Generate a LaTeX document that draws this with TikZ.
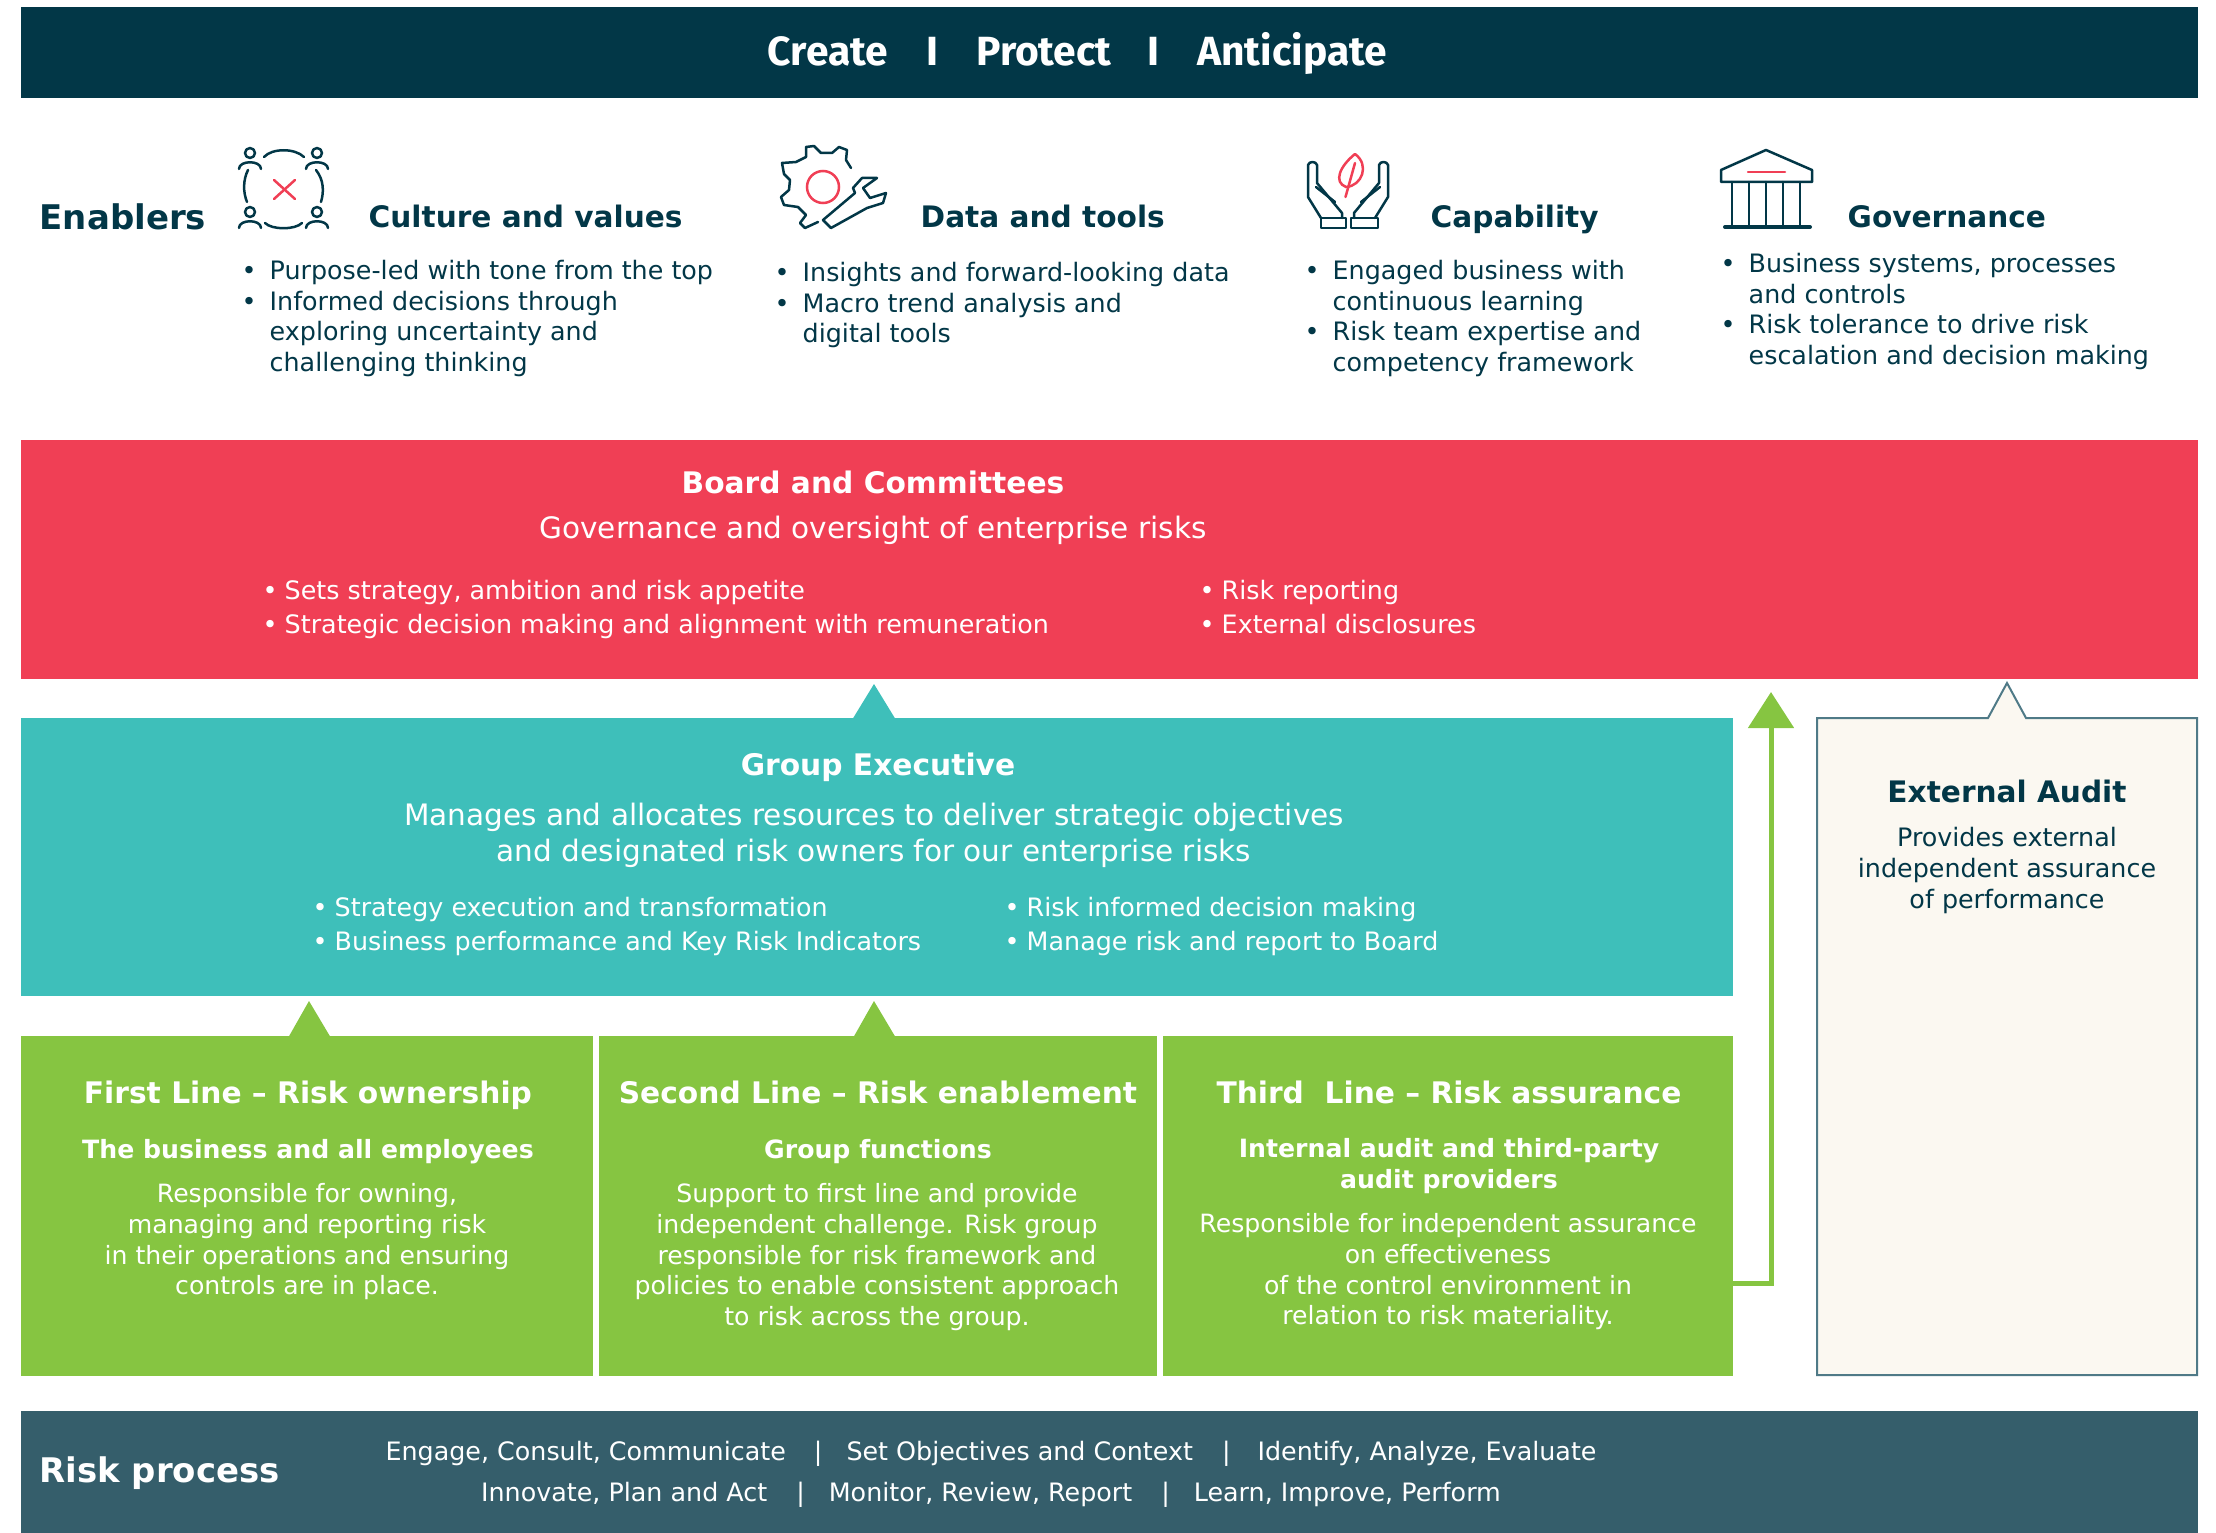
\documentclass[tikz,border=0pt]{standalone}
\usepackage{fontspec}
\setmainfont{DejaVu Sans}
\newfontfamily\headfont{Fira Sans}
\usetikzlibrary{positioning, calc}
\usetikzlibrary{arrows.meta}
\definecolor{navy}{HTML}{023747}
\definecolor{riskred}{HTML}{F03F55}
\definecolor{teal}{HTML}{3EBFBA}
\definecolor{leaf}{HTML}{86C541}
\definecolor{cream}{HTML}{FBF8F1}
\definecolor{slate}{HTML}{355E6B}
\definecolor{auditline}{HTML}{4F7A87}
\newcommand{\bul}[1]{\makebox[0.28cm][l]{•}#1}
\newcommand{\nobul}{\hspace*{0.28cm}}
\newcommand{\wbul}[1]{\makebox[0.22cm][l]{•}#1}
\newcommand{\gap}[1]{\hspace*{#1cm}}
\tikzset{
    panel/.style = {anchor = north west, inner sep = 0pt, outer sep = 0pt},
    headword/.style = {white, anchor = base, font = \headfont\bfseries\fontsize{11.6}{14}\selectfont},
    enabler/.style = {navy, anchor = base west, inner sep = 0pt, font = \bfseries\fontsize{8.42}{11}\selectfont},
    navylist/.style = {navy, anchor = base west, inner sep = 0pt, align = left, font = \fontsize{7.22}{8.73}\selectfont},
    whitelist/.style = {white, anchor = base west, inner sep = 0pt, align = left, font = \fontsize{7.22}{9.67}\selectfont},
    bigtitle/.style = {white, anchor = base, inner sep = 0pt, font = \bfseries\fontsize{8.45}{10}\selectfont},
    bigline/.style = {white, inner sep = 0pt, align = center, font = \fontsize{8.4}{10.2}\selectfont},
    subtitle/.style = {white, inner sep = 0pt, align = center, font = \bfseries\fontsize{7.16}{8.73}\selectfont},
    bodyline/.style = {white, inner sep = 0pt, align = center, font = \fontsize{7.16}{8.73}\selectfont},
    icon/.style = {navy, line width = 0.25mm, line join = round, line cap = round},
    iconred/.style = {riskred, line width = 0.25mm, line cap = round}
}
\begin{document}
\begin{tikzpicture}[x = 1cm, y = -1cm]
                \useasboundingbox (0,0) rectangle (22.16,15.33);
                \node[panel, fill = navy, minimum width = 21.77cm, minimum height = 0.91cm] (topbar) at (0.21,0.07) {};
                \node[headword] (create) at (8.28,0.66) {Create};
                \node[headword] (sepone) at (9.32,0.66) {I};
                \node[headword] (protect) at (10.44,0.66) {Protect};
                \node[headword] (septwo) at (11.53,0.66) {I};
                \node[headword] (anticipate) at (12.92,0.66) {Anticipate};
                \node[enabler, font = \bfseries\fontsize{9.67}{12}\selectfont] (enablers) at (0.39,2.30) {Enablers};
                \draw[icon] (2.50,1.53) circle (0.05);
                \draw[icon] (3.17,1.53) circle (0.05);
                \draw[icon] (2.50,2.12) circle (0.05);
                \draw[icon] (3.17,2.12) circle (0.05);
                \draw[icon] (2.39,1.69) .. controls (2.39,1.60) and (2.61,1.60) .. (2.61,1.69);
                \draw[icon] (3.06,1.69) .. controls (3.06,1.60) and (3.28,1.60) .. (3.28,1.69);
                \draw[icon] (2.39,2.28) .. controls (2.39,2.19) and (2.61,2.19) .. (2.61,2.28);
                \draw[icon] (3.06,2.28) .. controls (3.06,2.19) and (3.28,2.19) .. (3.28,2.28);
                \draw[icon] (2.64,1.57) .. controls (2.72,1.48) and (2.95,1.48) .. (3.04,1.57);
                \draw[icon] (2.65,2.23) .. controls (2.72,2.30) and (2.95,2.30) .. (3.02,2.23);
                \draw[icon] (2.48,1.70) .. controls (2.43,1.80) and (2.43,1.92) .. (2.47,2.02);
                \draw[icon] (3.16,1.70) .. controls (3.24,1.80) and (3.24,1.92) .. (3.21,2.02);
                \draw[iconred] (2.74,1.80) -- (2.95,1.99);
                \draw[iconred] (2.95,1.80) -- (2.74,1.99);
                \node[enabler] (culture) at (3.68,2.275) {Culture and values};
                \node[navylist] (culturelist) at (2.41,3.715) {\bul{Purpose-led with tone from the top}\\\bul{Informed decisions through}\\\nobul exploring uncertainty and\\\nobul challenging thinking};
                \draw[icon] (8.51,1.68) -- (8.46,1.60) -- (8.47,1.50) -- (8.39,1.47) -- (8.32,1.53) -- (8.21,1.53) -- (8.14,1.46) -- (8.06,1.47) -- (8.06,1.57) -- (7.96,1.62) -- (7.82,1.63) -- (7.84,1.74) -- (7.90,1.80) -- (7.89,1.90) -- (7.81,1.97) -- (7.84,2.05) -- (7.98,2.07) -- (8.06,2.15) -- (8.00,2.23) -- (8.05,2.28) -- (8.18,2.22);
                \draw[icon] (8.23,2.20) -- (8.55,1.93) -- (8.53,1.88) -- (8.62,1.78) -- (8.77,1.78) -- (8.63,1.88) -- (8.70,1.98) -- (8.86,1.93) -- (8.83,2.03) -- (8.67,2.08) -- (8.31,2.28) -- cycle;
                \draw[iconred] (8.23,1.87) circle (0.16);
                \node[enabler] (data) at (9.20,2.275) {Data and tools};
                \node[navylist] (datalist) at (7.74,3.43) {\bul{Insights and forward-looking data}\\\bul{Macro trend analysis and}\\\nobul digital tools};
                \draw[icon] (13.21,2.18) -- (13.08,1.97) -- (13.08,1.65) .. controls (13.09,1.61) and (13.16,1.61) .. (13.17,1.65) -- (13.17,1.83) -- (13.42,2.13) -- (13.42,2.18);
                \draw[icon] (13.16,1.87) -- (13.35,2.02);
                \draw[icon] (13.21,2.18) rectangle (13.46,2.28);
                \draw[icon] (13.75,2.18) -- (13.88,1.97) -- (13.88,1.65) .. controls (13.87,1.61) and (13.80,1.61) .. (13.79,1.65) -- (13.79,1.83) -- (13.54,2.13) -- (13.54,2.18);
                \draw[icon] (13.80,1.87) -- (13.61,2.02);
                \draw[icon] (13.51,2.18) rectangle (13.78,2.28);
                \draw[iconred] (13.55,1.54) .. controls (13.40,1.66) and (13.33,1.82) .. (13.46,1.87) .. controls (13.62,1.86) and (13.70,1.65) .. (13.55,1.54);
                \draw[iconred] (13.455,1.97) -- (13.55,1.63);
                \node[enabler] (capability) at (14.30,2.275) {Capability};
                \node[navylist] (capabilitylist) at (13.04,3.715) {\bul{Engaged business with}\\\nobul continuous learning\\\bul{Risk team expertise and}\\\nobul competency framework};
                \draw[icon] (17.21,1.82) -- (17.21,1.70) -- (17.66,1.50) -- (18.12,1.70) -- (18.12,1.82) -- cycle;
                \draw[iconred] (17.48,1.72) -- (17.85,1.72);
                \draw[icon] (17.32,1.82) -- (17.32,2.26);
                \draw[icon] (17.49,1.82) -- (17.49,2.26);
                \draw[icon] (17.66,1.82) -- (17.66,2.26);
                \draw[icon] (17.83,1.82) -- (17.83,2.26);
                \draw[icon] (18.00,1.82) -- (18.00,2.26);
                \draw[icon, line width = 0.4mm] (17.25,2.27) -- (18.10,2.27);
                \node[enabler] (governance) at (18.47,2.275) {Governance};
                \node[navylist] (governancelist) at (17.20,3.645) {\bul{Business systems, processes}\\\nobul and controls\\\bul{Risk tolerance to drive risk}\\\nobul escalation and decision making};
                \node[panel, fill = riskred, minimum width = 21.77cm, minimum height = 2.39cm] (board) at (0.21,4.40) {};
                \node[bigtitle] (boardtitle) at (8.73,4.935) {Board and Committees};
                \node[bigline] (boardline) at (8.73,5.305) {Governance and oversight of enterprise risks};
                \node[whitelist] (boardleft) at (2.62,6.33) {\wbul{Sets strategy, ambition and risk appetite}\\\wbul{Strategic decision making and alignment with remuneration}};
                \node[whitelist] (boardright) at (11.99,6.33) {\wbul{Risk reporting}\\\wbul{External disclosures}};
                \fill[teal] (8.52,7.20) -- (8.74,6.84) -- (8.96,7.20) -- cycle;
                \node[panel, fill = teal, minimum width = 17.12cm, minimum height = 2.78cm] (group) at (0.21,7.18) {};
                \node[bigtitle] (grouptitle) at (8.78,7.755) {Group Executive};
                \node[bigline] (groupline) at (8.74,8.355) {Manages and allocates resources to deliver strategic objectives\\and designated risk owners for our enterprise risks};
                \node[whitelist] (groupleft) at (3.12,9.505) {\wbul{Strategy execution and transformation}\\\wbul{Business performance and Key Risk Indicators}};
                \node[whitelist] (groupright) at (10.04,9.505) {\wbul{Risk informed decision making}\\\wbul{Manage risk and report to Board}};
                \fill[leaf] (2.88,10.38) -- (3.09,10.01) -- (3.31,10.38) -- cycle;
                \fill[leaf] (8.53,10.38) -- (8.74,10.01) -- (8.96,10.38) -- cycle;
                \node[panel, fill = leaf, minimum width = 5.72cm, minimum height = 3.40cm] (firstline) at (0.21,10.36) {};
                \node[panel, fill = leaf, minimum width = 5.58cm, minimum height = 3.40cm] (secondline) at (5.99,10.36) {};
                \node[panel, fill = leaf, minimum width = 5.70cm, minimum height = 3.40cm] (thirdline) at (11.63,10.36) {};
                \node[bigtitle] (firsttitle) at (3.08,11.035) {First Line – Risk ownership};
                \node[subtitle, anchor = base] (firstsub) at (3.08,11.58) {The business and all employees};
                \node[bodyline, anchor = north] (firstbody) at (3.07,11.83) {Responsible for owning,\\managing and reporting risk\\in their operations and ensuring\\controls are in place.};
                \node[bigtitle] (secondtitle) at (8.78,11.035) {Second Line – Risk enablement};
                \node[subtitle, anchor = base] (secondsub) at (8.78,11.58) {Group functions};
                \node[bodyline, anchor = north] (secondbody) at (8.77,11.83) {Support to first line and provide\\independent challenge. Risk group\\responsible for risk framework and\\policies to enable consistent approach\\to risk across the group.};
                \node[bigtitle] (thirdtitle) at (14.49,11.035) {Third~ Line – Risk assurance};
                \node[subtitle, anchor = north] (thirdsub) at (14.49,11.38) {Internal audit and third-party\\audit providers};
                \node[bodyline, anchor = north] (thirdbody) at (14.48,12.13) {Responsible for independent assurance\\on effectiveness\\of the control environment in\\relation to risk materiality.};
                \coordinate (arrowtip) at (17.71,6.92);
                \draw[leaf, line width = 0.5mm, -{Triangle[length = 3.6mm, width = 4.5mm]}] (thirdline.east |- 0,12.83) -| (arrowtip);
                \draw[auditline, fill = cream, line width = 0.2mm] (18.17,7.18) -- (19.88,7.18) -- (20.07,6.83) -- (20.26,7.18) -- (21.97,7.18) -- (21.97,13.75) -- (18.17,13.75) -- cycle;
                \node[enabler, anchor = center] (audittitle) at (20.07,7.91) {External Audit};
                \node[navylist, anchor = north, align = center] (auditbody) at (20.07,8.27) {Provides external\\independent assurance\\of performance};
                \node[panel, fill = slate, minimum width = 21.77cm, minimum height = 1.22cm] (riskbar) at (0.21,14.11) {};
                \node[enabler, white, font = \bfseries\fontsize{9.65}{12}\selectfont] (risklabel) at (0.39,14.82) {Risk process};
                \node[bodyline, font = \fontsize{7.22}{11.6}\selectfont] (risksteps) at (9.91,14.745) {Engage, Consult, Communicate\gap{0.28}|\gap{0.24}Set Objectives and Context\gap{0.29}|\gap{0.27}Identify, Analyze, Evaluate\\Innovate, Plan and Act\gap{0.29}|\gap{0.24}Monitor, Review, Report\gap{0.29}|\gap{0.24}Learn, Improve, Perform};
            \end{tikzpicture}
\end{document}
